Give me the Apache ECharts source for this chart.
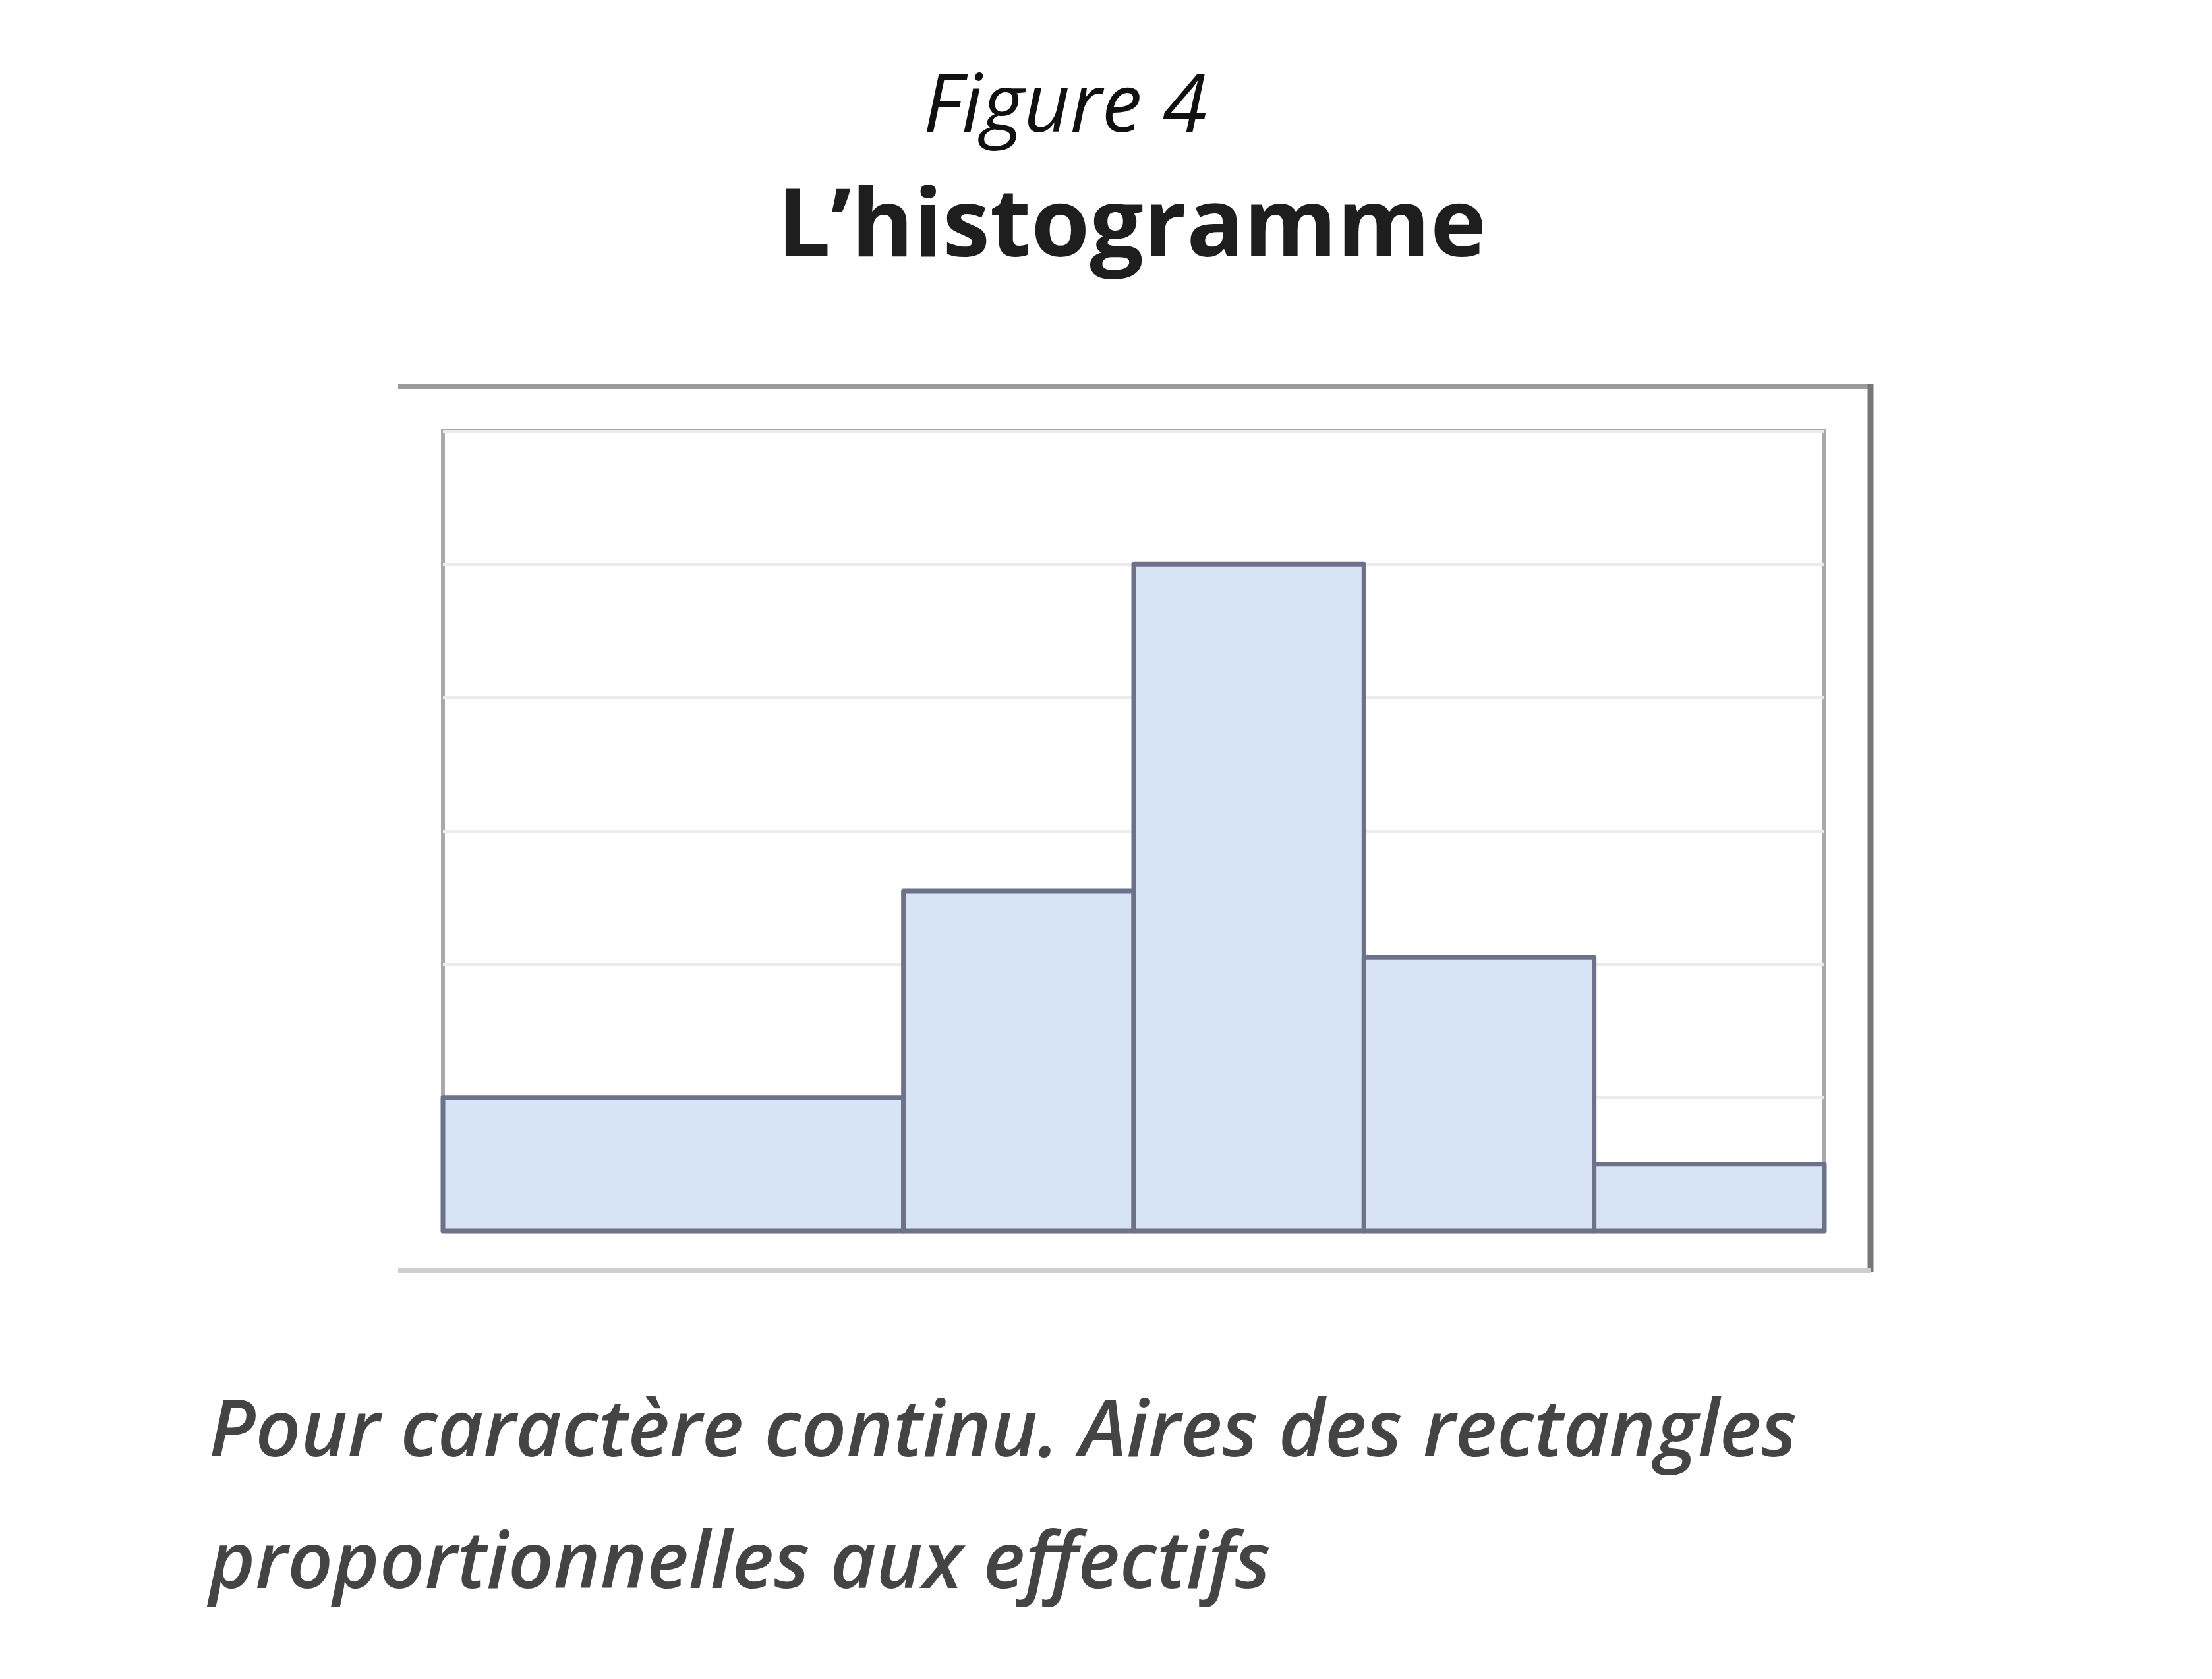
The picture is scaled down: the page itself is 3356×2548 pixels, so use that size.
<!DOCTYPE html>
<html>
<head>
<meta charset="utf-8">
<title>L'histogramme</title>
<script src="https://cdn.jsdelivr.net/npm/echarts@6/dist/echarts.min.js"></script>
<style>
  html, body { margin: 0; padding: 0; background: #fff; }
  #main { width: 3356px; height: 2548px; }
</style>
</head>
<body>
<div id="main"></div>
<script>
// classes (bornes) et hauteurs des rectangles
var binStart = [0, 2, 3, 4, 5];
var binEnd = [2, 3, 4, 5, 6];
var heights = [1, 2.55, 5, 2.05, 0.5];

var figureLabel = "Figure 4";
var titleText = "L\u2019histogramme";
var captionLines = [
  "Pour caract\u00e8re continu. Aires des rectangles",
  "proportionnelles aux effectifs"
];

var data = binStart.map(function (s, i) {
  return [s, binEnd[i], heights[i]];
});

var myChart = echarts.init(document.getElementById("main"));

myChart.setOption({
  backgroundColor: "#ffffff",
  animation: false,
  grid: {
    left: 672,
    right: 588,
    top: 654,
    bottom: 680,
    show: true,
    borderColor: "#a9a9a9",
    borderWidth: 6,
    backgroundColor: "transparent"
  },
  xAxis: {
    type: "value",
    min: 0,
    max: 6,
    axisLine: { show: false },
    axisTick: { show: false },
    axisLabel: { show: false },
    splitLine: { show: false }
  },
  yAxis: {
    type: "value",
    min: 0,
    max: 6,
    interval: 1,
    axisLine: { show: false },
    axisTick: { show: false },
    axisLabel: { show: false },
    splitLine: { show: true, lineStyle: { color: "#ebebeb", width: 5 } }
  },
  series: [
    {
      type: "custom",
      data: data,
      encode: { x: [0, 1], y: 2 },
      renderItem: function (params, api) {
        var p0 = api.coord([api.value(0), 0]);
        var p1 = api.coord([api.value(1), api.value(2)]);
        return {
          type: "rect",
          shape: { x: p0[0], y: p1[1], width: p1[0] - p0[0], height: p0[1] - p1[1] },
          style: {
            fill: "#d6e4f5",
            stroke: "#6d7189",
            lineWidth: 7,
            lineJoin: "round"
          }
        };
      }
    }
  ],
  graphic: [
    // cadre extérieur (haut, droite, bas)
    { type: "line", shape: { x1: 604, y1: 586, x2: 2838, y2: 586 }, style: { stroke: "#9c9c9c", lineWidth: 8 } },
    { type: "line", shape: { x1: 2838, y1: 583, x2: 2838, y2: 1930 }, style: { stroke: "#777777", lineWidth: 9 } },
    { type: "line", shape: { x1: 604, y1: 1928, x2: 2838, y2: 1928 }, style: { stroke: "#cfcfcf", lineWidth: 8 } },
    {
      type: "text",
      x: 1616,
      y: 226,
      style: {
        text: figureLabel,
        font: "italic 122px 'Open Sans', sans-serif",
        fill: "#111111",
        textAlign: "center",
        textVerticalAlign: "bottom"
      }
    },
    {
      type: "text",
      x: 1717,
      y: 420,
      style: {
        text: titleText,
        font: "bold 144px 'Open Sans', Lato, sans-serif",
        fill: "#1e1e1e",
        textAlign: "center",
        textVerticalAlign: "bottom"
      }
    },
    {
      type: "text",
      x: 317,
      y: 2236,
      style: {
        text: captionLines[0],
        font: "italic 600 120px 'Open Sans', Lato, sans-serif",
        fill: "#444444",
        textAlign: "left",
        textVerticalAlign: "bottom"
      }
    },
    {
      type: "text",
      x: 317,
      y: 2436,
      style: {
        text: captionLines[1],
        font: "italic 600 120px 'Open Sans', Lato, sans-serif",
        fill: "#444444",
        textAlign: "left",
        textVerticalAlign: "bottom"
      }
    }
  ]
});
</script>
</body>
</html>
